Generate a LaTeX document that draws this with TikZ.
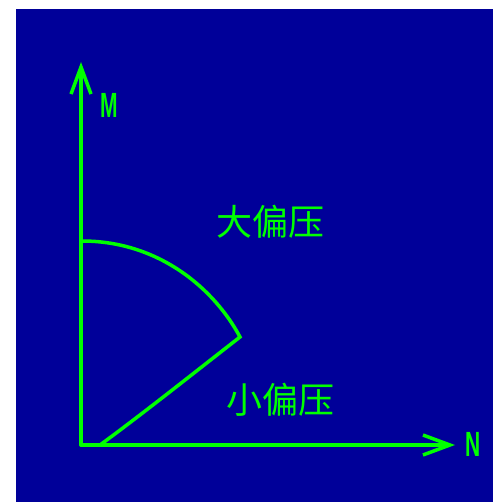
\documentclass[tikz,border=0pt]{standalone}
\usepackage{fontspec}
\usepackage{graphicx}
\newfontfamily\cjk{Noto Sans CJK SC}
\setmainfont{Liberation Sans}
\usetikzlibrary{arrows.meta}
\definecolor{bg}{RGB}{0,0,153}
\definecolor{ln}{RGB}{0,255,0}
\begin{document}
\begin{tikzpicture}[x=1pt,y=-1pt,
  axis/.style={draw=ln,line width=3.5pt,line cap=round,-{Straight Barb[length=27pt,width=20pt,line width=3.5pt]}},
  crv/.style={draw=ln,line width=3.5pt,line cap=round,line join=miter},
  cjklabel/.style={text=ln,font=\cjk\fontsize{36}{40}\selectfont,inner sep=0pt},
  axlabel/.style={text=ln,font=\bfseries\fontsize{35}{40}\selectfont,inner sep=0pt}]
\useasboundingbox (0,0) rectangle (493,502);
\fill[white] (0,0) rectangle (493,502);
\fill[bg] (16,9) rectangle (493,502);
\coordinate (O) at (81,445);
\coordinate (Mtip) at (81,62);
\coordinate (Ntip) at (455,445);
\coordinate (A) at (82,241);
\coordinate (V) at (240,337);
\coordinate (B) at (100,445);
\draw[axis] (O) -- (Mtip);
\draw[axis] (O) -- (Ntip);
\draw[crv] (A) .. controls (160,241) and (215,290) .. (V)
           .. controls (195,372) and (145,412) .. (B);
\node[axlabel] (Mlab) at (109,105) {\scalebox{0.6}[1]{M}};
\node[axlabel] (Nlab) at (473,444) {\scalebox{0.6}[1]{N}};
\node[cjklabel] (big) at (270,222) {大偏压};
\node[cjklabel] (small) at (280,400) {小偏压};
\end{tikzpicture}
\end{document}
